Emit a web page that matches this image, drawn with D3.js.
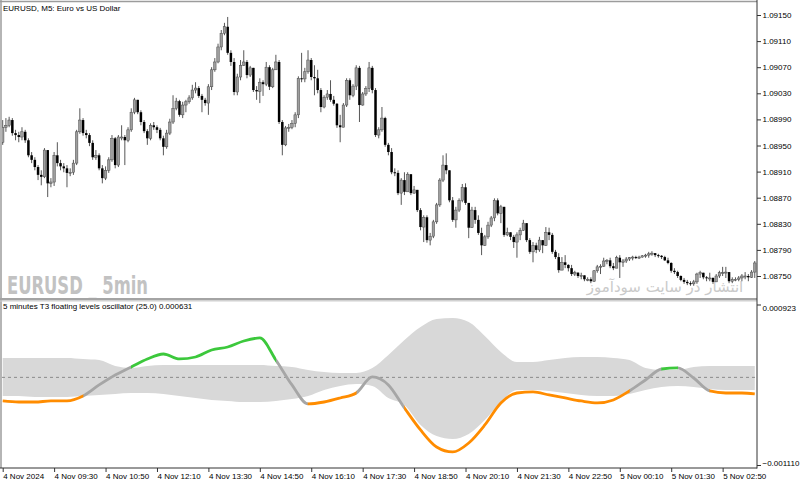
<!DOCTYPE html>
<html><head><meta charset="utf-8">
<script src="https://cdn.jsdelivr.net/npm/d3@7"></script>
<style>body{margin:0;background:#fff;}svg{display:block;}</style>
</head><body>
<svg id="c" width="800" height="485"></svg>
<script>
// ---------------- DATA ----------------
const symbolTitle = "EURUSD, M5:  Euro vs US Dollar";
const oscTitle = "5 minutes T3 floating levels oscillator (25.0) 0.000631";
const watermark = "EURUSD _ 5min";
const watermarkFa = "انتشار در سایت سودآموز";

// prices are stored as points (1e-5) above 1.08000
const priceBase = 1.08;
const firstOpen = 955;
const closePts = [978,981,989,969,966,963,971,958,935,928,917,905,902,943,892,894,935,923,918,915,
908,909,923,971,989,969,966,954,932,935,915,900,912,928,961,920,963,963,958,974,
1001,1020,1001,986,972,961,981,978,974,961,948,969,986,1007,1018,997,1012,1017,1023,1035,
1038,1026,1020,1015,1040,1066,1078,1101,1122,1132,1092,1078,1032,1055,1073,1078,1058,1069,1035,1033,
1047,1044,1070,1040,1066,1078,986,951,977,978,984,997,1053,1052,1063,1081,1055,1053,1035,1009,
1024,1029,1020,1014,981,978,1012,1050,1027,1041,1069,1012,1029,1037,1069,1035,966,974,992,951,
940,909,908,877,897,879,906,877,882,851,825,840,805,811,833,859,897,920,912,866,
836,851,866,886,862,824,851,836,816,797,810,828,839,866,846,856,813,817,810,802,
813,820,831,805,787,797,790,805,797,817,813,787,779,759,771,767,762,753,755,750,
751,745,745,742,758,764,765,773,774,765,762,778,771,773,776,778,779,778,779,781,
782,784,785,782,781,779,774,770,758,756,750,744,741,739,738,741,753,755,748,747,
747,741,750,755,755,756,742,745,745,747,750,750,748,756,770];
const highPts = [989,992,994,992,974,971,978,974,961,940,932,920,912,946,935,900,940,955,928,923,
920,915,928,974,1007,992,974,969,958,943,938,920,918,932,966,963,966,981,966,978,
1007,1023,1020,1004,989,975,984,986,981,977,965,974,991,1027,1023,1020,1017,1020,1027,1043,
1047,1041,1029,1023,1044,1070,1084,1106,1127,1138,1147,1096,1084,1060,1081,1096,1081,1072,1069,1041,
1053,1050,1078,1073,1069,1089,1081,989,980,983,989,1001,1056,1092,1069,1096,1084,1073,1066,1038,
1027,1035,1050,1026,1015,997,1015,1053,1053,1044,1073,1072,1032,1041,1078,1072,1038,978,1009,994,
954,946,915,912,900,909,909,897,888,882,854,843,843,816,836,862,900,935,938,912,
871,856,869,891,892,862,856,856,843,824,813,833,842,869,869,859,828,824,817,813,
817,824,836,828,808,802,801,810,802,825,824,816,790,785,779,782,768,767,758,756,
755,751,748,748,759,767,768,778,776,778,770,781,782,776,779,779,781,781,781,782,
784,787,788,785,784,782,781,778,771,762,758,751,747,744,742,744,755,758,753,750,
755,748,753,758,764,764,756,748,748,750,753,756,753,759,773];
const lowPts = [951,971,978,965,958,955,958,954,932,923,912,897,889,900,871,886,888,918,912,909,
886,903,905,920,968,965,961,949,928,928,912,892,897,908,925,915,917,958,920,955,
971,998,998,981,969,951,958,974,969,958,935,945,966,983,1004,994,992,1001,1014,1020,
1030,1023,1001,1011,997,1035,1063,1076,1096,1119,1089,1072,1027,1027,1050,1072,1053,1055,1032,1020,
1015,1026,1041,1035,1038,1066,983,935,949,971,975,978,992,1047,1047,1060,1050,1027,1030,1001,
1007,1020,1017,1011,977,955,981,1009,1020,1024,1035,986,1011,1026,1032,1030,963,961,971,948,
935,906,903,874,859,874,882,874,876,848,820,802,801,797,808,830,856,894,906,863,
833,824,848,863,859,808,833,830,813,782,796,807,825,834,843,831,810,811,805,793,
778,805,819,802,784,771,785,787,785,796,805,784,776,755,762,762,757,750,750,747,
745,742,742,739,741,755,753,764,768,762,759,762,747,764,770,773,774,776,776,778,
778,778,781,779,778,776,773,768,755,753,747,742,738,736,735,735,738,747,745,742,
742,738,742,747,750,747,739,739,742,742,742,745,742,747,747];

const priceTicks = [1.09150,1.09110,1.09070,1.09030,1.08990,1.08950,1.08910,1.08870,1.08830,1.08790,1.08750];
const timeTickIdx = [0,16,32,48,64,80,96,112,128,144,160,176,192,208,224];
const timeTickLabels = ["4 Nov 2024","4 Nov 09:30","4 Nov 10:50","4 Nov 12:10","4 Nov 13:30","4 Nov 14:50",
  "4 Nov 16:10","4 Nov 17:30","4 Nov 18:50","4 Nov 20:10","4 Nov 21:30","4 Nov 22:50",
  "5 Nov 00:10","5 Nov 01:30","5 Nov 02:50"];

// oscillator samples (bar index) and values in 1e-6 units
const oscIdx = [0,5,10,15,20,25,30,35,40,45,50,55,60,65,70,75,80,85,90,95,100,105,110,115,120,125,130,135,
  140,145,150,155,160,165,170,175,180,185,190,195,200,205,210,215,220,225,230,234];
const oscLine = [-299,-312,-312,-299,-299,-236,-96,30,132,233,296,233,258,347,385,461,499,220,-96,-337,
  -312,-261,-198,5,-96,-388,-666,-882,-945,-831,-603,-324,-198,-185,-223,-261,-299,-324,-286,-172,
  -33,106,119,-8,-172,-198,-198,-210];
const oscUpper = [246,246,246,246,246,233,220,144,119,144,157,157,157,157,157,157,157,144,132,94,
  68,56,56,119,284,474,638,740,752,702,524,322,195,195,220,246,258,258,246,220,
  119,94,94,132,144,144,144,144];
const oscLower = [-236,-236,-248,-248,-248,-236,-223,-210,-198,-198,-210,-236,-261,-286,-299,-312,-312,-299,-274,-236,
  -160,-109,-84,-109,-261,-350,-603,-742,-780,-717,-540,-312,-160,-160,-172,-198,-223,-236,-236,-210,
  -160,-122,-109,-122,-147,-160,-160,-160];
const oscTicks = [0.000923, -0.001110];
const oscColors = {up:"#3cc83c", down:"#ff8c00", mid:"#a6a6a6"};

// ---------------- CHART ----------------
const svg = d3.select("#c");
const font = "'Liberation Sans', Arial, sans-serif";
const axisX = 757, mainTop = 1.5, mainBot = 298, oscTop = 301, oscBot = 468;
const N = closePts.length;

const x = d3.scaleLinear().domain([0, N - 1]).range([2.7, 2.7 + 3.214 * (N - 1)]);
const y = d3.scaleLinear().domain([1.08750, 1.09150]).range([276, 15]);
const yo = d3.scaleLinear().domain([-0.001110, 0.000923]).range([465, 304.5]);

const bars = closePts.map((c, i) => {
  const o = i === 0 ? firstOpen : closePts[i - 1];
  const h = Math.max(highPts[i], o, c), l = Math.min(lowPts[i], o, c);
  return {i, o: priceBase + o / 1e5, c: priceBase + c / 1e5, h: priceBase + h / 1e5, l: priceBase + l / 1e5};
});

svg.append("rect").attr("width", 800).attr("height", 485).attr("fill", "#fff");

const defs = svg.append("defs");
defs.append("clipPath").attr("id", "clipMain").append("rect")
  .attr("x", 2).attr("y", mainTop + 1).attr("width", axisX - 2).attr("height", mainBot - mainTop - 1);
defs.append("clipPath").attr("id", "clipOsc").append("rect")
  .attr("x", 2).attr("y", oscTop + 1).attr("width", axisX - 2).attr("height", oscBot - oscTop - 1);

// watermarks
svg.append("text").attr("x", 7).attr("y", 294).text(watermark)
  .attr("font-family", "'Liberation Sans Narrow','DejaVu Sans Condensed','Liberation Sans',sans-serif")
  .attr("font-weight", "bold").attr("font-size", 25).attr("fill", "#c2c2c2")
  .attr("textLength", 141).attr("lengthAdjust", "spacingAndGlyphs");
svg.append("text").attr("x", 665).attr("y", 292).text(watermarkFa)
  .attr("font-family", "'DejaVu Sans',sans-serif").attr("font-size", 15).attr("fill", "#cacaca")
  .attr("text-anchor", "middle");

// candles
const gC = svg.append("g").attr("clip-path", "url(#clipMain)");
gC.selectAll("line.wick").data(bars).join("line").attr("class", "wick")
  .attr("x1", d => x(d.i)).attr("x2", d => x(d.i))
  .attr("y1", d => y(d.h)).attr("y2", d => y(d.l))
  .attr("stroke", "#444").attr("stroke-width", 0.9);
gC.selectAll("rect.body").data(bars).join("rect").attr("class", "body")
  .attr("x", d => x(d.i) - 1.25).attr("width", 2.5)
  .attr("y", d => y(Math.max(d.o, d.c)))
  .attr("height", d => Math.max(1, Math.abs(y(d.o) - y(d.c))))
  .attr("fill", d => d.c >= d.o ? "#9e9e9e" : "#000")
  .attr("stroke", d => d.c >= d.o ? "#4a4a4a" : "none").attr("stroke-width", 0.5);

// oscillator
const gO = svg.append("g").attr("clip-path", "url(#clipOsc)");
const osc = oscIdx.map((b, k) => ({b, v: oscLine[k] / 1e6, u: oscUpper[k] / 1e6, l: oscLower[k] / 1e6}));
gO.append("path").datum(osc)
  .attr("d", d3.area().x(d => x(d.b)).y0(d => yo(d.l)).y1(d => yo(d.u)).curve(d3.curveMonotoneX))
  .attr("fill", "#d8d8d8");
gO.append("line").attr("x1", 2).attr("x2", axisX).attr("y1", yo(0)).attr("y2", yo(0))
  .attr("stroke", "#8a8a8a").attr("stroke-width", 1).attr("stroke-dasharray", "3,3");

// segment states
const segState = d3.range(osc.length - 1).map(k => {
  const mv = (osc[k].v + osc[k + 1].v) / 2, mu = (osc[k].u + osc[k + 1].u) / 2, ml = (osc[k].l + osc[k + 1].l) / 2;
  return mv > mu ? "up" : (mv < ml ? "down" : "mid");
});
const lineGen = d3.line().x(d => x(d.b)).y(d => yo(d.v)).curve(d3.curveMonotoneX);
["mid", "down", "up"].forEach(st => {
  const cp = defs.append("clipPath").attr("id", "seg-" + st);
  segState.forEach((s, k) => {
    if (s !== st) return;
    let x0 = x(osc[k].b), x1 = x(osc[k + 1].b);
    if (k === 0) x0 = 0;
    if (k === segState.length - 1) x1 = 800;
    cp.append("rect").attr("x", x0 - 0.3).attr("width", x1 - x0 + 0.6).attr("y", 0).attr("height", 485);
  });
  gO.append("g").attr("clip-path", "url(#seg-" + st + ")").append("path").datum(osc)
    .attr("d", lineGen).attr("fill", "none").attr("stroke", oscColors[st])
    .attr("stroke-width", 2.8).attr("stroke-linejoin", "round");
});

// frames
const frame = "#9c9c9c";
svg.append("line").attr("x1", 0).attr("x2", axisX).attr("y1", mainTop).attr("y2", mainTop).attr("stroke", frame).attr("stroke-width", 1.5);
svg.append("line").attr("x1", 1).attr("x2", 1).attr("y1", 0).attr("y2", oscBot).attr("stroke", frame).attr("stroke-width", 1.5);
svg.append("rect").attr("x", 0).attr("y", mainBot).attr("width", axisX).attr("height", 2.5).attr("fill", "#a4a4a4");
svg.append("line").attr("x1", 0).attr("x2", axisX).attr("y1", oscTop).attr("y2", oscTop).attr("stroke", "#d0d0d0").attr("stroke-width", 1);

// axes
const axCol = "#333";
const gY = svg.append("g").attr("transform", `translate(${axisX},0)`)
  .call(d3.axisRight(y).tickValues(priceTicks).tickSize(4).tickPadding(1.5).tickFormat(d3.format(".5f")));
const gYo = svg.append("g").attr("transform", `translate(${axisX},0)`)
  .call(d3.axisRight(yo).tickValues(oscTicks).tickSize(4).tickPadding(1.5).tickFormat(d3.format(".6f")));
gYo.selectAll(".tick text").attr("dy", (d) => d > 0 ? "0.75em" : "0.05em");
const gX = svg.append("g").attr("transform", `translate(0,${oscBot})`)
  .call(d3.axisBottom(x).tickValues(timeTickIdx).tickSize(4).tickPadding(1.8)
    .tickFormat((d, i) => timeTickLabels[i]));
gX.selectAll(".tick text").attr("text-anchor", "start").attr("x", 0);
[gY, gYo, gX].forEach(g => {
  g.select(".domain").remove();
  g.selectAll(".tick line").attr("stroke", axCol);
  g.selectAll(".tick text").attr("font-family", font).attr("font-size", 8).attr("fill", "#000");
});
svg.append("line").attr("x1", axisX).attr("x2", axisX).attr("y1", 0).attr("y2", oscBot + 0.5).attr("stroke", axCol);
svg.append("line").attr("x1", 0).attr("x2", axisX).attr("y1", oscBot).attr("y2", oscBot).attr("stroke", axCol);

// titles
svg.append("text").attr("x", 3).attr("y", 10.5).text(symbolTitle)
  .attr("font-family", font).attr("font-size", 8).attr("fill", "#000");
svg.append("text").attr("x", 3).attr("y", 309).text(oscTitle)
  .attr("font-family", font).attr("font-size", 8).attr("fill", "#000");
</script>
</body></html>
